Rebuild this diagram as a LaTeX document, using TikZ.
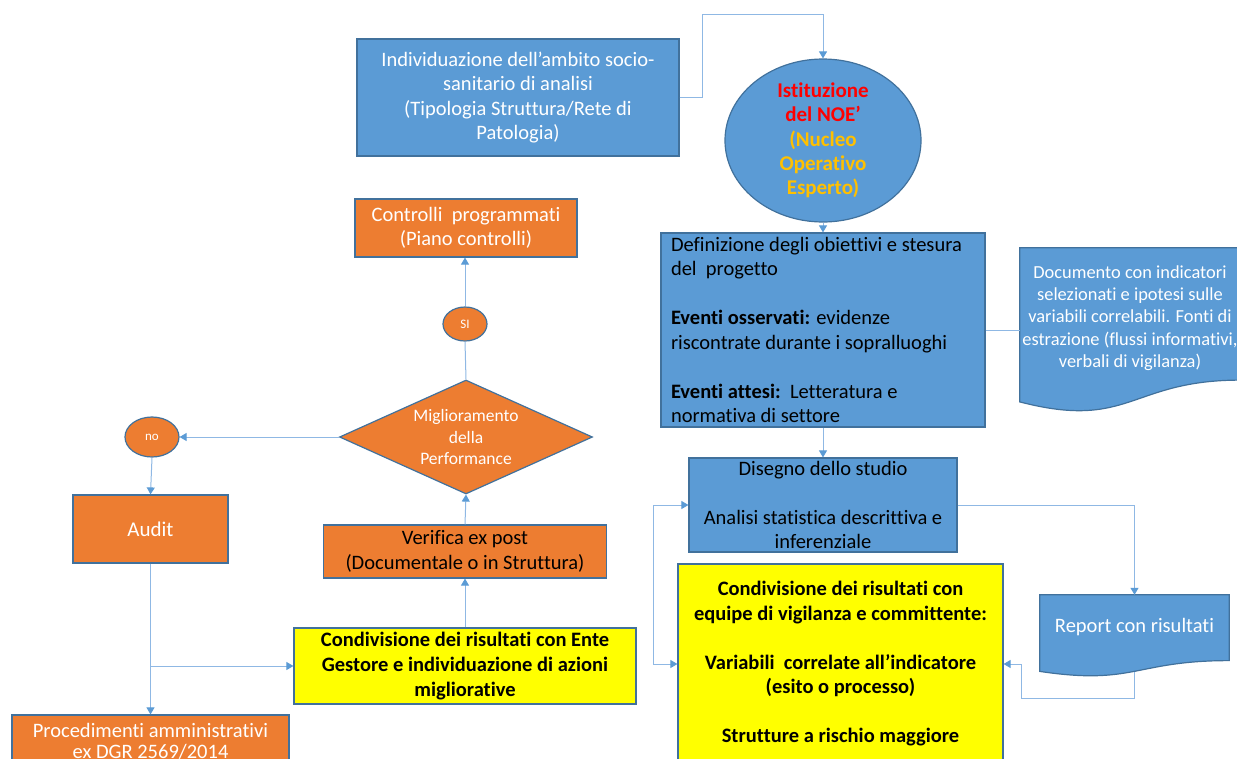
\documentclass[tikz,border=0pt]{standalone}
\usepackage{fontspec}
\setmainfont{Carlito}[Ligatures=NoCommon]
\usetikzlibrary{shapes.geometric,arrows.meta,calc}
\definecolor{bfill}{HTML}{5B9BD5}
\definecolor{bline}{HTML}{41719C}
\definecolor{ofill}{HTML}{ED7D31}
\definecolor{yfill}{HTML}{FFFF00}
\definecolor{connc}{HTML}{8FB8E4}
\definecolor{tipc}{HTML}{5B9BD5}
\definecolor{gold}{HTML}{FFC000}
\begin{document}
\begin{tikzpicture}[x=1pt,y=-1pt,
  box/.style={draw=bline, line width=1.2pt, inner sep=0pt, align=flush center},
  bluebox/.style={box, fill=bfill},
  orangebox/.style={box, fill=ofill},
  yellowbox/.style={box, fill=yfill},
  mainfont/.style={font=\fontsize{20.5}{24.5}\selectfont},
  boldfont/.style={font=\fontsize{20.5}{24.5}\selectfont\bfseries},
  oval/.style={ellipse, draw=bline, line width=1.2pt, inner sep=0pt, align=flush center},
  conn/.style={draw=connc, line width=1pt},
  arr/.style={conn, -{Triangle[length=7pt,width=8pt,color=tipc]}},
  arrboth/.style={conn, {Triangle[length=7pt,width=8pt,color=tipc]}-{Triangle[length=7pt,width=8pt,color=tipc]}}
]
\useasboundingbox (0,0) rectangle (1237,758);
\clip (0,0) rectangle (1237,758);

% ---------- right column ----------
\node[bluebox, mainfont, text=white, minimum width=322, minimum height=117] (top) at (518,97.5)
  {Individuazione dell’ambito socio-\\sanitario di analisi\\(Tipologia Struttura/Rete di\\Patologia)};

\node[oval, fill=bfill, font=\fontsize{21}{24.3}\selectfont\bfseries, minimum width=196, minimum height=134] (noe) at (823,140.5)
  {\textcolor{red}{Istituzione}\\\textcolor{red}{del NOE’}\\\textcolor{gold}{(Nucleo}\\\textcolor{gold}{Operativo}\\\textcolor{gold}{Esperto)}};

\node[bluebox, mainfont, minimum width=324, minimum height=194, text width=304, align=flush left] (def) at (823,330)
  {Definizione degli obiettivi e stesura\\del\ \ progetto\\[24.5pt]\textbf{Eventi osservati:} evidenze\\riscontrate durante i sopralluoghi\\[24.5pt]\textbf{Eventi attesi:}\ \ Letteratura e\\normativa di settore};

\node[minimum width=220, minimum height=165, inner sep=0pt] (doc) at (1130,330.5) {};
\path[fill=bfill, draw=bline, line width=1.2pt]
  (doc.north west) -- (doc.north east) -- ($(doc.north east)+(0,132.3)$)
  .. controls ($(doc.north)+(0,132.3)$) and ($(doc.north)+(0,182.7)$) .. ($(doc.north west)+(0,154.1)$) -- cycle;
\node[text=white, align=flush center, font=\fontsize{18.4}{22.3}\selectfont] (doctext) at (1130,318)
  {Documento con indicatori\\selezionati e ipotesi sulle\\variabili correlabili. Fonti di\\estrazione (flussi informativi,\\verbali di vigilanza)};

\node[bluebox, mainfont, minimum width=268, minimum height=94] (dis) at (823,505)
  {Disegno dello studio\\[24.5pt]Analisi statistica descrittiva e\\inferenziale};

\node[minimum width=189, minimum height=82, inner sep=0pt] (rep) at (1134.5,636) {};
\path[fill=bfill, draw=bline, line width=1.2pt]
  (rep.north west) -- (rep.north east) -- ($(rep.north east)+(0,65.8)$)
  .. controls ($(rep.north)+(0,65.8)$) and ($(rep.north)+(0,90.8)$) .. ($(rep.north west)+(0,76.6)$) -- cycle;
\node[text=white, font=\fontsize{20.5}{24}\selectfont] (reptext) at (1134.5,627) {Report con risultati};

\node[yellowbox, boldfont, minimum width=325, minimum height=200] (ybig) at (840.5,664)
  {Condivisione dei risultati con\\equipe di vigilanza e committente:\\[24.5pt]Variabili\ \ correlate all’indicatore\\(esito o processo)\\[24.5pt]Strutture a rischio maggiore};

% ---------- left column ----------
\node[orangebox, mainfont, text=white, minimum width=222, minimum height=58] (ctrl) at (466,228)
  {Controlli\ \ programmati\\(Piano controlli)};

\node[oval, fill=ofill, text=white, font=\fontsize{13}{15}\selectfont, minimum width=44, minimum height=34] (si) at (465,324) {SI};

\node[diamond, aspect=2.2, draw=bline, line width=1.2pt, fill=ofill, inner sep=0pt, align=flush center, text=white,
  font=\fontsize{17.5}{21.5}\selectfont, minimum width=253, minimum height=114] (dia) at (466,437)
  {Miglioramento\\della\\Performance};

\node[oval, fill=ofill, text=white, font=\fontsize{13}{15}\selectfont, minimum width=54, minimum height=40] (no) at (152,437) {no};

\node[orangebox, text=white, font=\fontsize{21}{24}\selectfont, minimum width=155, minimum height=68] (audit) at (150.5,529) {Audit};

\node[orangebox, text=white, font=\fontsize{20.5}{21}\selectfont, minimum width=277, minimum height=52] (proc) at (150.5,741)
  {Procedimenti amministrativi\\ex DGR 2569/2014};

\node[yellowbox, font=\fontsize{20.5}{25}\selectfont\bfseries, minimum width=342, minimum height=76] (ysm) at (465,666)
  {Condivisione dei risultati con Ente\\Gestore e individuazione di azioni\\migliorative};

\node[orangebox, mainfont, minimum width=283, minimum height=53] (ver) at (465,551.5)
  {Verifica ex post\\(Documentale o in Struttura)};

% ---------- connectors ----------
\coordinate (c1) at (702,14);
\draw[arr] (top.east) -| (c1) -| (noe.north);
\draw[arr] (noe.south) -- (def.north);
\draw[conn] (def.east) -- (def.east -| doc.west);
\draw[arr] (def.south) -- (dis.north);
\draw[arr] (dis.east) -| (rep.north);
\coordinate (lx) at (653,505);
\draw[arrboth] (dis.west) -- (dis.west -| lx) -- (ybig.west -| lx) -- (ybig.west);
\coordinate (rb) at (1021,698);
\draw[arr] ([yshift=5pt]rep.south) -- (rep.south |- rb) -- (rb) -- (rb |- ybig.east) -- (ybig.east);

\draw[arr] (dia.west) -- (no.east);
\draw[arr] (no.south) -- (audit.north);
\draw[arr] (audit.south) -- (proc.north);
\coordinate (br) at (150.5,666);
\draw[arr] (br) -- (ysm.west);
\draw[arr] (ysm.north) -- (ver.south);
\draw[arr] (ver.north) -- (dia.south);
\draw[conn] (dia.north) -- (si.south);
\draw[arr] (si.north) -- (si.north |- ctrl.south);
\end{tikzpicture}
\end{document}
